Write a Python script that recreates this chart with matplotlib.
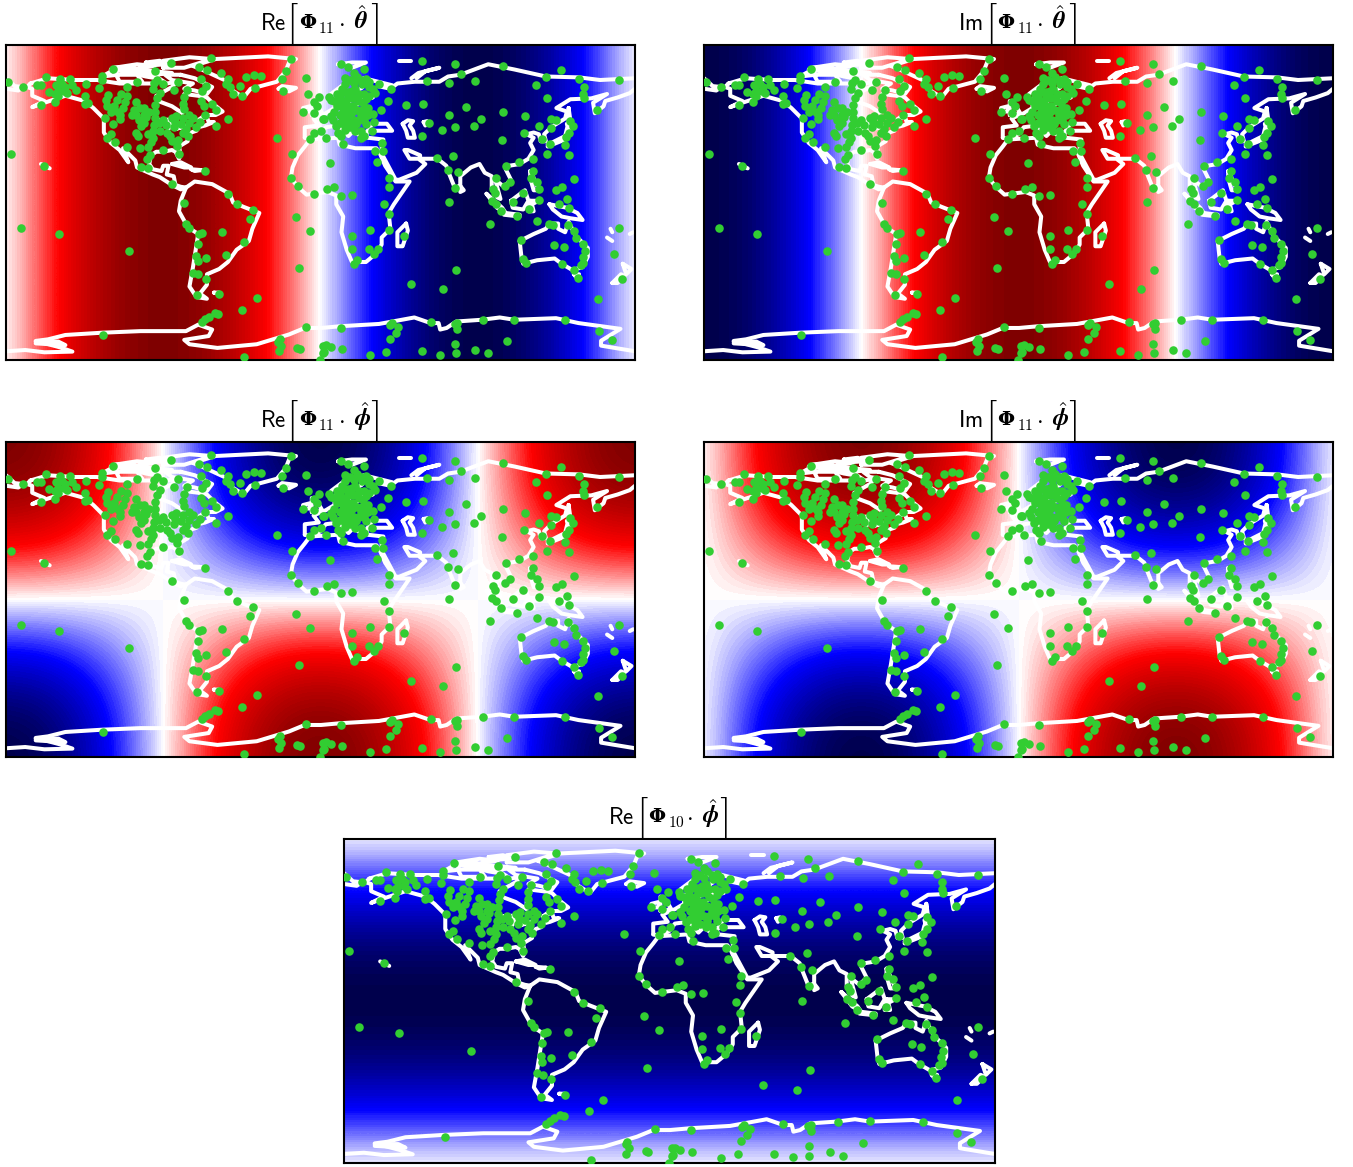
import numpy as np
import matplotlib
matplotlib.use('Agg')
import matplotlib.pyplot as plt
from matplotlib.colors import BoundaryNorm

plt.rcParams['mathtext.fontset'] = 'cm'
plt.rcParams['font.family'] = ['DejaVu Sans']

# field profiles, every 15 degrees
lon_knots = [-180, -165, -150, -135, -120, -105, -90, -75, -60, -45, -30, -15, 0,
             15, 30, 45, 60, 75, 90, 105, 120, 135, 150, 165, 180]
lat_knots = [-90, -75, -60, -45, -30, -15, 0, 15, 30, 45, 60, 75, 90]

lon_west_red = [0, .26, .5, .71, .87, .97, 1, .97, .87, .71, .5, .26, 0,
                -.26, -.5, -.71, -.87, -.97, -1, -.97, -.87, -.71, -.5, -.26, 0]
lon_mid_red = [-1, -.97, -.87, -.71, -.5, -.26, 0, .26, .5, .71, .87, .97, 1,
               .97, .87, .71, .5, .26, 0, -.26, -.5, -.71, -.87, -.97, -1]
lon_mid_blue = [1, .97, .87, .71, .5, .26, 0, -.26, -.5, -.71, -.87, -.97, -1,
                -.97, -.87, -.71, -.5, -.26, 0, .26, .5, .71, .87, .97, 1]
lon_flat = [1] * 25
lat_flat = [1] * 13
lat_north_pos = [-1, -.97, -.87, -.71, -.5, -.26, 0, .26, .5, .71, .87, .97, 1]
lat_equator_dark = [0, -.26, -.5, -.71, -.87, -.97, -1, -.97, -.87, -.71, -.5, -.26, 0]

coast_lines = [
    # north america
    [(-166, 68), (-156, 71), (-141, 70), (-128, 70), (-115, 68), (-108, 68), (-95, 68), (-94, 72), (-88, 68),
     (-82, 69), (-85, 66), (-94, 61), (-93, 58), (-85, 55), (-82, 53), (-79, 51), (-79, 55), (-77, 60), (-78, 62),
     (-70, 61), (-65, 60), (-61, 56), (-56, 52), (-60, 50), (-66, 50), (-70, 47), (-65, 49), (-64, 46), (-61, 46),
     (-66, 44), (-70, 43), (-71, 41), (-74, 40), (-76, 37), (-76, 35), (-81, 32), (-80, 27), (-81, 25), (-83, 29),
     (-85, 30), (-90, 29), (-94, 29), (-97, 27), (-98, 22), (-96, 19), (-91, 18), (-90, 21), (-87, 21), (-88, 16),
     (-84, 15), (-83, 10), (-80, 9), (-77, 8.5), (-80, 7.5), (-85, 10), (-92, 14.5), (-96, 16), (-105, 20),
     (-106, 24), (-113, 31), (-110, 23), (-115, 30), (-120, 34), (-124, 40), (-124, 48), (-130, 54), (-135, 58),
     (-146, 61), (-152, 59), (-158, 57), (-165, 54.5), (-158, 58), (-165, 61), (-165, 65), (-168, 66), (-166, 68)],
    # arctic islands
    [(-80, 73), (-72, 71), (-62, 66), (-65, 62), (-72, 64), (-78, 65), (-73, 68), (-85, 70), (-89, 73), (-80, 73)],
    [(-117, 73), (-105, 73), (-102, 69), (-115, 69), (-117, 73)],
    [(-125, 72), (-118, 76), (-116, 73), (-125, 72)],
    [(-120, 76), (-105, 76), (-95, 75), (-85, 74), (-95, 73), (-110, 74.5), (-120, 76)],
    [(-118, 77), (-105, 79), (-95, 78), (-105, 76.5), (-118, 77)],
    [(-112, 75), (-100, 72), (-94, 71), (-98, 74), (-112, 75)],
    [(-90, 77), (-78, 77), (-62, 82), (-75, 83), (-90, 81), (-90, 77)],
    [(-100, 80), (-92, 81), (-88, 79), (-96, 78.5), (-100, 80)],
    # great lakes
    [(-92, 47), (-85, 47.5), (-85, 46), (-92, 47)],
    [(-87, 46), (-87, 42), (-85.5, 45), (-87, 46)],
    [(-84, 46), (-81, 45), (-82, 43), (-84, 46)],
    [(-83, 42), (-79, 43), (-76, 44), (-79, 43.5), (-83, 42)],
    # greenland, iceland, caribbean
    [(-73, 78), (-68, 76), (-55, 70), (-52, 65), (-44, 60), (-40, 65), (-25, 69), (-20, 75), (-18, 80), (-14, 82),
     (-30, 83.5), (-60, 82), (-73, 78)],
    [(-24, 65), (-22, 66.5), (-14, 65.5), (-18, 63.5), (-24, 65)],
    [(-85, 22), (-80, 23), (-74, 20), (-78, 20), (-85, 22)],
    [(-74, 19), (-68, 18.5), (-72, 18), (-74, 19)],
    [(-160, 22), (-155, 19.5)],
    # south america
    [(-77, 8.5), (-72, 12), (-62, 10.5), (-52, 5), (-50, 0), (-44, -2.5), (-35, -6), (-39, -15), (-41, -22),
     (-48, -27), (-53, -34), (-58, -38), (-65, -41), (-65, -47), (-69, -52), (-65, -55), (-71, -54), (-75, -48),
     (-73, -37), (-70, -18), (-76, -14), (-81, -5), (-80, 1), (-77, 8.5)],
    [(-61, -51.5), (-58, -51.5), (-59, -52), (-61, -51.5)],
    # antarctica
    [(-180, -85), (-169, -84.3), (-158, -85.6), (-142, -85.2), (-149, -82.8), (-163, -79.1), (-156, -78.2),
     (-146, -75.7), (-125, -74.4), (-103, -73.5), (-77, -73.5), (-70, -69.8), (-62, -72.6), (-64, -76.3),
     (-78, -78.5), (-75, -81), (-59, -83.1), (-36.5, -81), (-18, -75.4), (-9, -71.7), (0.3, -71.7), (11.3, -70.7),
     (33.5, -69.4), (53.7, -65.7), (63, -68.9), (67.6, -68.9), (68.5, -72.6), (72.2, -71.7), (77.7, -68),
     (92.4, -67), (102.6, -65.7), (110.9, -67), (134.8, -66.1), (147.7, -68.9), (171.7, -72.2), (160.6, -79),
     (160.6, -81.8), (180, -85)],
    [(-163, -79.5), (-150, -79.5), (-146, -81.5), (-163, -80.5)],
    # africa and madagascar
    [(-6, 36), (10, 37), (11, 33), (20, 31), (32, 31), (34, 28), (37, 21), (43, 12), (51, 12), (42, -1), (39, -6),
     (40, -15), (35, -20), (35, -24), (32, -29), (26, -34), (18, -34), (15, -27), (12, -17), (13, -8), (9, -1),
     (9, 4), (4, 6), (-4, 5), (-8, 4.5), (-13, 9), (-17, 14), (-16, 20), (-13, 27), (-9, 32), (-6, 36)],
    [(49, -12), (50, -16), (47, -25), (44, -25), (44, -17), (49, -12)],
    # eurasia, atlantic to pacific
    [(-9, 37), (-9, 43), (-1, 44), (-4, 48), (3, 51), (8, 54), (8, 57), (11, 54), (20, 55), (24, 59), (30, 60),
     (22, 60), (21, 64), (24, 66), (18, 62), (16, 56), (13, 55.5), (11, 59), (5, 59), (6, 62), (14, 68), (25, 71),
     (41, 67), (33, 66.5), (40, 65), (44, 68), (54, 69), (68, 69), (73, 72), (80, 73), (96, 79), (111, 76),
     (129, 72), (148, 71.5), (160, 70), (180, 71)],
    [(-180, 71), (-175, 66.5), (-170, 66), (-173, 64), (-180, 65)],
    [(180, 65), (177, 62.5), (170, 60), (163, 58), (162, 55), (157, 51), (156, 57), (164, 62), (155, 59.5), (143, 59),
     (135, 54), (141, 52), (140, 48), (132, 43), (128, 39), (129, 35), (126, 35), (125, 39), (122, 40), (118, 39),
     (122, 37), (120, 34), (122, 30), (119, 25), (114, 22), (108, 21), (106, 19), (109, 13), (105, 9), (100, 13),
     (103, 2), (101, 3), (98, 8), (98, 15), (94, 17), (91, 22), (86, 20), (80, 15), (80, 10), (77, 8), (73, 18),
     (72, 21), (67, 25), (57, 25), (57, 27), (50, 30), (48, 30), (51, 25), (56, 25), (60, 22), (55, 17), (45, 13),
     (43, 13), (35, 28), (35, 32), (36, 36), (27, 37), (26, 40), (29, 41), (41, 41), (38, 45), (33, 45), (30, 46),
     (28, 42), (26, 40), (23, 38), (20, 40), (19, 42), (14, 45), (12, 44), (18, 40), (16, 38), (10, 44), (3, 43),
     (0, 39), (-5, 36), (-9, 37)],
    # caspian and aral
    [(47, 45), (50, 47), (53, 46.5), (51, 44), (53, 41), (54, 37), (50, 37), (49, 41), (47, 45)],
    [(59, 46), (61, 46.5), (60, 44), (59, 46)],
    # european and arctic islands
    [(-5, 50), (1, 51), (-2, 56), (-5, 58), (-5, 54), (-5, 50)],
    [(-10, 52), (-6, 52), (-6, 55), (-10, 54), (-10, 52)],
    [(52, 71), (56, 74), (68, 77), (60, 75), (55, 71)],
    [(10, 79), (18, 80), (26, 80), (18, 77), (10, 79)],
    [(45, 81), (52, 81)],
    # asia pacific islands
    [(130, 32), (135, 34), (140, 36), (142, 40), (141, 45), (145, 43), (141, 42), (140, 38), (135, 35.5), (130, 33)],
    [(142, 54), (143, 47), (142, 46), (142, 54)],
    [(120, 18), (122, 14), (125, 7), (122, 7), (120, 14), (120, 18)],
    [(109, 1), (117, 7), (119, 1), (116, -4), (110, -3), (109, 1)],
    [(95, 5), (104, -3), (106, -6), (101, -3), (95, 5)],
    [(105, -7), (114, -8), (114, -7), (106, -6)],
    [(120, 1), (125, 1), (121, -1), (122, -5), (119, -5), (120, 1)],
    [(131, -1), (141, -3), (147, -6), (150, -10), (143, -9), (138, -8), (133, -4), (131, -1)],
    [(80, 9.5), (82, 7), (80, 6), (80, 9.5)],
    # australia and around
    [(114, -22), (122, -18), (129, -15), (131, -12), (136, -12), (136, -15), (140, -17), (142, -11), (146, -19),
     (153, -26), (153, -31), (150, -37), (144, -38.5), (138, -35), (134, -32), (124, -33), (116, -35), (115, -31),
     (114, -22)],
    [(145, -41), (148, -41), (147, -43.5), (145, -41)],
    [(173, -35), (178, -38), (175, -41), (173, -35)],
    [(167, -46), (172, -41), (174, -42), (170, -46), (167, -46)],
    [(164, -20), (167, -22)],
    [(166, -15), (167, -17)],
    [(177, -18), (179, -17)],
]

stations_americas = [
    (-179, 69), (-170, 66), (-162.5, 67), (-160, 67), (-157, 71.5), (-155.5, 63), (-160, 55.5), (-151.5, 67),
    (-149, 70.5), (-143.5, 70.5), (-148, 68), (-146, 66), (-150, 64), (-145, 62.5), (-150.5, 61), (-152, 57.5),
    (-140, 64.5), (-134, 68), (-135, 61), (-135, 56.5), (-133, 57), (-125, 72.5), (-125, 70), (-126.5, 65.5),
    (-119, 76.5), (-105, 69), (-95, 75), (-85.5, 80), (-95.5, 68.5), (-93.5, 70), (-90, 68), (-81.5, 69), (-84, 64.5),
    (-68.5, 70.5), (-69.5, 77.5), (-65, 76), (-62.5, 82.5), (-65.5, 66.5), (-68, 64), (-111, 66), (-121.5, 61.5),
    (-122.5, 58.5), (-122, 55), (-120, 52), (-123.5, 48.5), (-116.5, 58.5), (-114, 62), (-111, 61), (-112, 57.5),
    (-113, 54), (-114.5, 50), (-115, 47.5), (-118.5, 45), (-105.5, 57.5), (-107, 53), (-103.5, 54), (-105.5, 50),
    (-108, 50), (-101, 54), (-101, 45.5), (-102.5, 43.5), (-105.5, 40), (-104.5, 38), (-96, 65), (-92, 62.5),
    (-93.5, 59.5), (-94.5, 56), (-95, 52), (-95, 48.5), (-95.5, 44.5), (-96, 41), (-96, 37), (-97, 34.5), (-99, 31.5),
    (-103.5, 31), (-99.5, 25), (-97.5, 27), (-90, 30), (-92.5, 45.5), (-88.5, 44.5), (-84, 43), (-85, 48.5),
    (-82.5, 49.5), (-78.5, 48.5), (-75, 50), (-73, 48.5), (-75, 45.5), (-71, 43), (-78.5, 40), (-76, 38), (-81.5, 36),
    (-82, 32.5), (-81, 28), (-76.5, 64.5), (-78, 60.5), (-78.5, 56.5), (-78, 53.5), (-68.5, 58), (-66.5, 55),
    (-62, 56.5), (-60, 53), (-66, 50), (-53, 47.5), (-60, 43.5), (-120, 39), (-122, 37), (-117.5, 34.5), (-111, 32),
    (-103, 20.5), (-99, 19.5), (-66, 18), (-85, 10.5), (-53, 5), (-78, 0), (-48, -1), (-158, 21), (-177, 28),
    (-76.8, -12.4), (-75, -14.6), (-69.4, -18), (-67.6, -17.4), (-56.2, -17), (-70.3, -23.5), (-71.3, -30.4),
    (-70.3, -33.7), (-65.4, -31.8), (-53.8, -30), (-43.6, -22.6), (-40.5, -9.6), (-38.5, -4), (-73.1, -40.2),
    (-70, -41), (-65.4, -43.5), (-70.9, -53.1), (-58, -52.2), (-171.7, -14.3), (-149.4, -17.8), (-109.6, -27.6),
    (-100, 49), (-104, 47), (-98, 52), (-116, 52), (-90, 47), (-80, 45), (-83, 46), (-88, 40),
    (-86, 38), (-85, 35), (-118, 55), (-101, 50), (-99, 39), (-92, 41),
    (-147, 64), (-152, 62), (-142, 67), (-77, 42), (-69, 46),
]

stations_greenland_atlantic = [
    (-57, 74), (-53, 70.5), (-54, 68), (-52, 66), (-50, 62), (-46, 66.5), (-45, 61), (-42.5, 72), (-38, 73),
    (-34, 72.5), (-37.5, 65.5), (-22, 70.5), (-20, 75), (-17, 82), (-8.5, 71), (-21.5, 64), (-25, 37), (-16.5, 28),
    (-17, 14), (-13, 9.5), (-4, 5), (-14.3, -8.1), (-5.8, -16.1), (-12.3, -37.4), (-36.6, -54.8),
]

stations_europe_africa = [
    (-7, 62), (-1, 60.5), (-4, 57.5), (-2, 55), (-10, 52), (-4, 51), (1.5, 48), (0, 41), (-4, 40), (-6, 36.5),
    (12, 79), (16, 77.5), (19, 74), (25, 76.5), (14, 68), (19, 68.5), (23.3, 70), (26, 70.5), (33.5, 68), (40.5, 65),
    (12.3, 65), (28, 66), (25, 62), (31, 62.5), (18, 60), (9.5, 62), (5, 60.5), (5.8, 58.5), (9.5, 55), (12.3, 55),
    (18.7, 55), (24.2, 56.7), (27, 54), (38.6, 58), (34.4, 53), (30.3, 50.7), (30.7, 46), (2, 48), (5.8, 49.6),
    (11.3, 50), (17, 50), (23.3, 50), (11.3, 45.5), (16, 46.5), (20.5, 44.6), (26, 44.6), (14, 41.5), (23.3, 41),
    (29.4, 41), (23.3, 37), (3, 37), (13, 33.5), (31.2, 29.4), (35.3, 34), (35.7, 29.3), (32.5, 23.3), (5.4, 22.4),
    (39.3, 14), (39, 9), (4, 7.6), (7.6, 9), (11.7, 4), (18.3, 4.3), (36.6, -0.7), (39.2, -6.5), (39.4, -15.6),
    (28.3, -15.6), (17.8, -19.4), (18.2, -26.8), (28, -26.3), (32.7, -26.3), (30.7, -29.6), (20.9, -32.8),
    (19.3, -35), (47.8, -19.3), (77.7, -38.3), (70.3, -49.6), (51.9, -46.8),
    (14, 71), (17, 70), (21, 72), (24, 68), (28, 69), (20, 65), (16, 63), (22, 62), (18, 64), (14, 63), (11, 61),
    (8, 58), (14, 58), (22, 58), (26, 59), (15, 56), (21, 53), (8, 52), (13, 52), (18, 52), (24, 53), (7, 47),
    (13, 47), (19, 47), (25, 47), (9, 44), (14, 44), (20, 41), (25, 38), (10, 40), (12, 38), (28, 61), (30, 65),
    (20, 60), (16, 60), (12, 58), (16, 53), (27, 50), (22, 47), (17, 43), (14, 49),
]

stations_asia_pacific = [
    (58, 80.7), (76.8, 79), (80.6, 73.7), (104.4, 78), (137.6, 76), (129, 71.5), (148, 70.5), (170.8, 70), (61, 69.6),
    (73.6, 68.3), (88.2, 69.6), (123.4, 67), (129.7, 60), (150.8, 66), (150.5, 62), (151, 60), (158.4, 53), (49, 55.7),
    (58.5, 56.3), (83, 54.8), (104.4, 52), (117.3, 49.6), (73.3, 49.8), (91.9, 48), (62.2, 45.5), (77, 43),
    (69.6, 41.3), (87.6, 43.7), (58.3, 37.8), (103.9, 36), (124.9, 44), (132, 47.8), (134.8, 47.4), (131.7, 42.8),
    (116.2, 40), (127, 36.3), (142.6, 46.5), (144.4, 43.7), (142.2, 40), (140.3, 37.2), (139.8, 33), (131.5, 33.5),
    (129.7, 28), (142.2, 27), (75.8, 26.7), (66.6, 25.2), (72.9, 18.7), (78.8, 17.2), (77.1, 8.5), (73.3, 0.2),
    (121.4, 24.8), (113.4, 23), (106, 21), (121.5, 17.8), (120.4, 14), (123.8, 12), (125.2, 7.6), (145, 13.5),
    (138.5, 9), (134.8, 7.2), (141, 2), (100.5, 14), (108.5, 11.8), (105.7, 9.4), (98.5, 7.6), (99.8, 5.7), (116, 5.7),
    (125, 1.5), (136.3, -0.7), (110, 0.2), (98, 1), (100.7, -0.7), (103.5, -5), (112.7, -7.8), (119.5, -3.5),
    (123.8, -10.5), (97, -12), (131, -12.4), (133, -12.8), (141.8, -12.8), (142.2, -3.1), (145, -16), (146.4, -20.2),
    (150.5, -23.5), (151.4, -27.6), (150, -31), (150.5, -34.6), (149.2, -35.6), (145.3, -38.7), (147.2, -43),
    (138.5, -35), (115, -21.3), (116, -32), (117.7, -34.3), (133.9, -24.1), (139.2, -25.7), (170.8, -14.6),
    (167.8, -29.4), (172.6, -43.5), (158.8, -55),
]

stations_antarctic = [
    (11.9, -71.5), (39.9, -69.8), (41.2, -68.9), (44.5, -71.1), (43, -74.5), (39.5, -78), (63, -68.2), (76.8, -69.4),
    (78.2, -68.9), (78, -72.2), (93, -67), (110.9, -66.9), (140, -67.2), (159.2, -73.3), (166.7, -78.3), (106.8, -78.9),
    (77.1, -80.6), (3, -81.5), (5.8, -82.6), (2.1, -85.7), (12.3, -83.9), (28.5, -87.4), (37.7, -85.2), (58, -84.8),
    (68.3, -86.9), (77.3, -86.1), (88.7, -84.1), (95.7, -85.9), (-44.7, -61.3), (-58.4, -63.9), (-60.6, -63.3),
    (-63.9, -65.2), (-66.1, -66.5), (-68.1, -68.3), (-124.2, -75.7), (-8.2, -71.1), (-23.3, -78.2), (-24.3, -79.6),
    (-22.4, -81.9), (-23.9, -84.8), (-13.2, -83.3), (-12, -83.7), (-43.6, -88.3), (1.5, -81.9), (1.5, -85.9),
    (-0.3, -90),
]

W, H = 1353, 1167


def add_title(ax, part, sub, vec):
    """title built piece by piece, offsets in pixels from the top centre of the axes"""
    pieces = [
        (part, -61, 15, 16.5, 'left', {'math_fontfamily': 'cm'}),
        (r'$[$', -34, 10, 30, 'left', {}),
        ('\u03a6', -21, 17, 14, 'left', {'family': 'DejaVu Serif', 'weight': 'bold'}),
        ('$' + sub + '$', -2, 12, 11, 'left', {}),
        (r'$\cdot$', 17, 16, 17, 'left', {}),
        (r'$\hat{\boldsymbol{' + vec + r'}}$', 33, 16, 17.5, 'left', {}),
        (r'$]$', 58, 10, 30, 'right', {}),
    ]
    for txt, dx, dy, size, ha, kw in pieces:
        ax.annotate(txt, xy=(0.5, 1), xycoords='axes fraction', xytext=(dx, dy), textcoords='offset pixels',
                    fontsize=size, ha=ha, va='baseline', annotation_clip=False, **kw)


def add_panel(fig, box, lon_prof, lat_prof, part, sub, vec):
    """one map panel, box is x0, y0, x1, y1 in image pixels from the top left"""
    x0, y0, x1, y1 = box
    ax = fig.add_axes([x0 / W, 1 - y1 / H, (x1 - x0) / W, (y1 - y0) / H])

    field = np.outer(lat_prof, lon_prof)
    dlon = (lon_knots[1] - lon_knots[0]) / 2
    dlat = (lat_knots[1] - lat_knots[0]) / 2
    norm = BoundaryNorm(np.linspace(-1, 1, 101), 256)
    ax.imshow(field, origin='lower', cmap='seismic', norm=norm, aspect='auto',
              interpolation='bicubic', interpolation_stage='data',
              extent=[lon_knots[0] - dlon, lon_knots[-1] + dlon, lat_knots[0] - dlat, lat_knots[-1] + dlat])

    for line in coast_lines:
        xs = [p[0] for p in line]
        ys = [p[1] for p in line]
        ax.plot(xs, ys, color='white', lw=2.9, solid_capstyle='round', solid_joinstyle='round')

    stations = (stations_americas + stations_greenland_atlantic + stations_europe_africa
                + stations_asia_pacific + stations_antarctic)
    ax.scatter([s[0] for s in stations], [s[1] for s in stations], s=38, color='limegreen',
               linewidths=0, zorder=5)

    ax.set_xlim(-180, 180)
    ax.set_ylim(-90, 90)
    ax.set_xticks([])
    ax.set_yticks([])
    for spine in ax.spines.values():
        spine.set_linewidth(1.5)
    add_title(ax, part, sub, vec)
    return ax


fig = plt.figure(figsize=(W / 100, H / 100), dpi=100)

add_panel(fig, (6, 45, 635, 360), lon_west_red, lat_flat, r'$\mathsf{Re}$', '11', r'\theta')
add_panel(fig, (704, 45, 1333, 360), lon_mid_red, lat_flat, r'$\mathsf{Im}$', '11', r'\theta')
add_panel(fig, (6, 442, 635, 757), lon_mid_blue, lat_north_pos, r'$\mathsf{Re}$', '11', r'\phi')
add_panel(fig, (704, 442, 1333, 757), lon_west_red, lat_north_pos, r'$\mathsf{Im}$', '11', r'\phi')
add_panel(fig, (344, 839, 995, 1163), lon_flat, lat_equator_dark, r'$\mathsf{Re}$', '10', r'\phi')

plt.savefig('out.png', dpi=100)
plt.close()
